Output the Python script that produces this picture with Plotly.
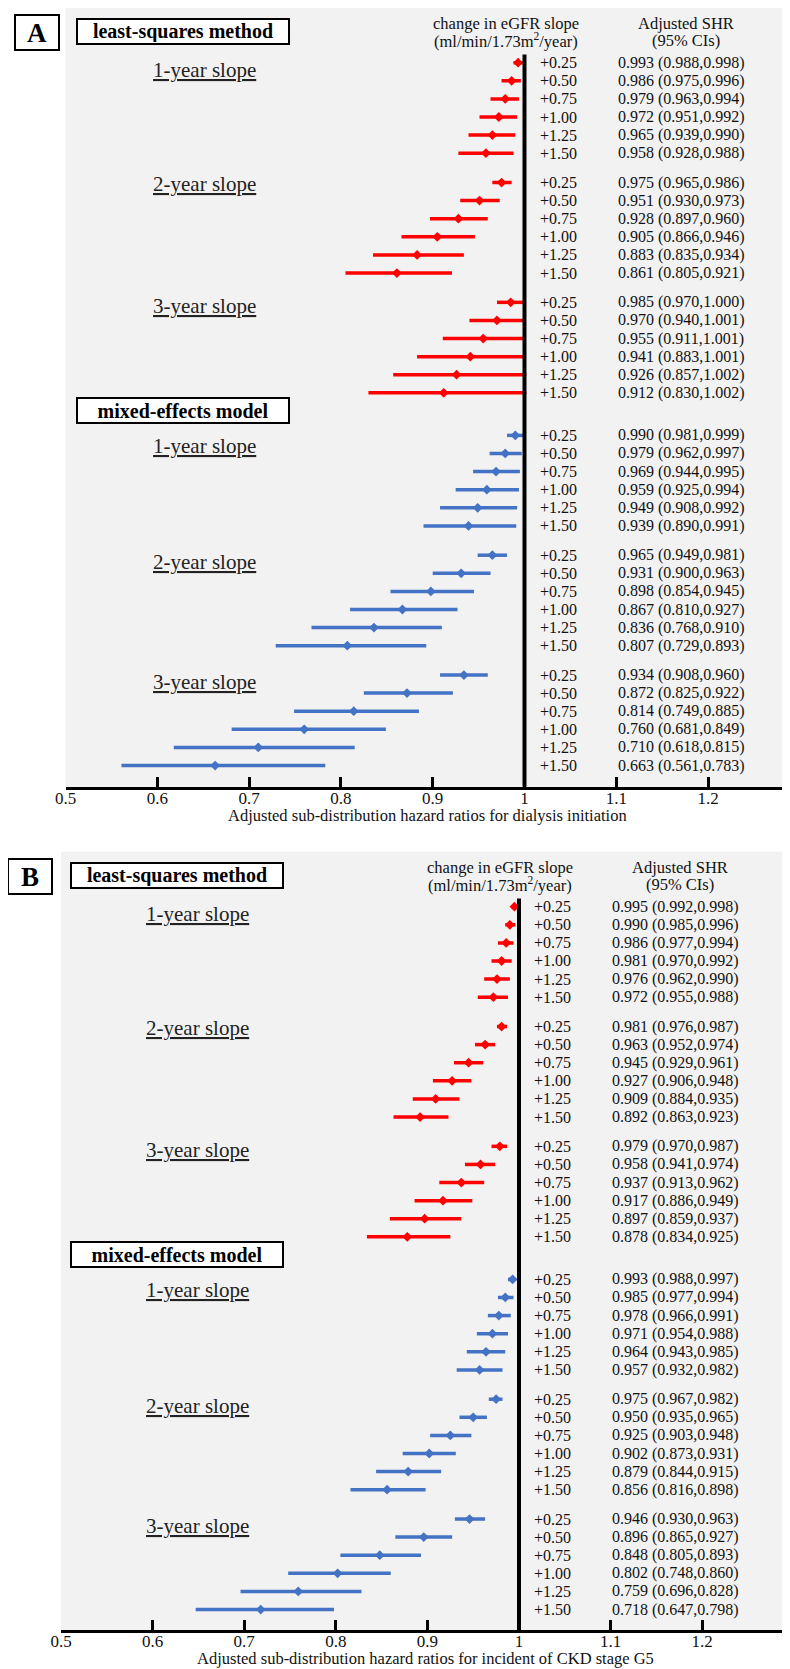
import plotly.graph_objects as go

# ---------------- data ----------------
increments = ["+0.25", "+0.50", "+0.75", "+1.00", "+1.25", "+1.50"]
slope_labels = ["1-year slope", "2-year slope", "3-year slope"]
method_labels = ["least-squares method", "mixed-effects model"]
panel_labels = ["A", "B"]
outcome_titles = ["Adjusted sub-distribution hazard ratios for dialysis initiation",
                  "Adjusted sub-distribution hazard ratios for incident of CKD stage G5"]
header_slope = ["change in eGFR slope", "(ml/min/1.73m<sup>2</sup>/year)"]
header_shr = ["Adjusted SHR", "(95% CIs)"]
tick_vals = [0.5, 0.6, 0.7, 0.8, 0.9, 1.0, 1.1, 1.2]
tick_text = ["0.5", "0.6", "0.7", "0.8", "0.9", "1", "1.1", "1.2"]

# Panel A: dialysis initiation
a_ls_est = [0.993, 0.986, 0.979, 0.972, 0.965, 0.958, 0.975, 0.951, 0.928, 0.905, 0.883, 0.861, 0.985, 0.970, 0.955, 0.941, 0.926, 0.912]
a_ls_lo = [0.988, 0.975, 0.963, 0.951, 0.939, 0.928, 0.965, 0.930, 0.897, 0.866, 0.835, 0.805, 0.970, 0.940, 0.911, 0.883, 0.857, 0.830]
a_ls_hi = [0.998, 0.996, 0.994, 0.992, 0.990, 0.988, 0.986, 0.973, 0.960, 0.946, 0.934, 0.921, 1.000, 1.001, 1.001, 1.001, 1.002, 1.002]
a_me_est = [0.990, 0.979, 0.969, 0.959, 0.949, 0.939, 0.965, 0.931, 0.898, 0.867, 0.836, 0.807, 0.934, 0.872, 0.814, 0.760, 0.710, 0.663]
a_me_lo = [0.981, 0.962, 0.944, 0.925, 0.908, 0.890, 0.949, 0.900, 0.854, 0.810, 0.768, 0.729, 0.908, 0.825, 0.749, 0.681, 0.618, 0.561]
a_me_hi = [0.999, 0.997, 0.995, 0.994, 0.992, 0.991, 0.981, 0.963, 0.945, 0.927, 0.910, 0.893, 0.960, 0.922, 0.885, 0.849, 0.815, 0.783]

# Panel B: incident CKD stage G5
b_ls_est = [0.995, 0.990, 0.986, 0.981, 0.976, 0.972, 0.981, 0.963, 0.945, 0.927, 0.909, 0.892, 0.979, 0.958, 0.937, 0.917, 0.897, 0.878]
b_ls_lo = [0.992, 0.985, 0.977, 0.970, 0.962, 0.955, 0.976, 0.952, 0.929, 0.906, 0.884, 0.863, 0.970, 0.941, 0.913, 0.886, 0.859, 0.834]
b_ls_hi = [0.998, 0.996, 0.994, 0.992, 0.990, 0.988, 0.987, 0.974, 0.961, 0.948, 0.935, 0.923, 0.987, 0.974, 0.962, 0.949, 0.937, 0.925]
b_me_est = [0.993, 0.985, 0.978, 0.971, 0.964, 0.957, 0.975, 0.950, 0.925, 0.902, 0.879, 0.856, 0.946, 0.896, 0.848, 0.802, 0.759, 0.718]
b_me_lo = [0.988, 0.977, 0.966, 0.954, 0.943, 0.932, 0.967, 0.935, 0.903, 0.873, 0.844, 0.816, 0.930, 0.865, 0.805, 0.748, 0.696, 0.647]
b_me_hi = [0.997, 0.994, 0.991, 0.988, 0.985, 0.982, 0.982, 0.965, 0.948, 0.931, 0.915, 0.898, 0.963, 0.927, 0.893, 0.860, 0.828, 0.798]

# ---------------- style / layout ----------------
PAGE_W, PAGE_H = 790, 1669
BODY = 8                      # default page margin around the plot div
FIG_W, FIG_H = PAGE_W - BODY, PAGE_H - BODY
ROW_PX = 18.1
GAP_GROUP = 1.62
GAP_METHOD = 2.35
SLOPE_LABEL_SHIFT = [0.4, 0.1, 0.18, 0.59, 0.35, 0.4]   # label offset below first row of each group
FONT = "Liberation Serif, Times New Roman, serif"
TXT = "#111111"
COLORS = ["#ff0000", "#4472c4"]
BG = "#f2f2f2"
FS = 16

panels = [
    dict(x05=65.5, x10=524.5, top=8.0, axis=786.7, row0=62.7, slope_x=204, box_x=183, letter_x=36.5,
         hdr1_x=506, hdr2_x=686),
    dict(x05=61.0, x10=519.0, top=851.7, axis=1630.0, row0=906.7, slope_x=197, box_x=176.5, letter_x=30,
         hdr1_x=500, hdr2_x=680),
]
data = [
    [(a_ls_est, a_ls_lo, a_ls_hi), (a_me_est, a_me_lo, a_me_hi)],
    [(b_ls_est, b_ls_lo, b_ls_hi), (b_me_est, b_me_lo, b_me_hi)],
]

# row positions (in row units), 6 groups of 6 rows
group_start = []
start = 0.0
for m in range(2):
    for g in range(3):
        group_start.append(start)
        start += 5 + (GAP_GROUP if g < 2 else GAP_METHOD)
row_pos = [gs + k for gs in group_start for k in range(6)]


def px_x(px):
    return min(1.0, max(0.0, (px - BODY) / FIG_W))


def px_y(px):
    return min(1.0, max(0.0, 1 - (px - BODY) / FIG_H))


fig = go.Figure()
annotations = []
shapes = []
layout_axes = {}

for p, P in enumerate(panels):
    sfx = "" if p == 0 else str(p + 1)
    xa, ya = "x" + sfx, "y" + sfx
    per_unit = (P["x10"] - P["x05"]) / 0.5
    x_max = 0.5 + (PAGE_W - P["x05"]) / per_unit
    y_bottom = (P["axis"] - P["row0"]) / ROW_PX
    y_top = -(P["row0"] - P["top"]) / ROW_PX

    def ry(rows, P=P):
        return px_y(P["row0"] + rows * ROW_PX)

    for m in range(2):
        est, lo, hi = data[p][m]
        ys = row_pos[m * 18:(m + 1) * 18]
        fig.add_trace(go.Scatter(
            x=est, y=ys, xaxis=xa, yaxis=ya, mode="markers",
            marker=dict(symbol="diamond", size=7.5, color=COLORS[m], line=dict(width=0)),
            error_x=dict(type="data", symmetric=False,
                         array=[h - e for h, e in zip(hi, est)],
                         arrayminus=[e - l for e, l in zip(est, lo)],
                         color=COLORS[m], thickness=3.5, width=0),
            showlegend=False, hoverinfo="skip"))
        # row labels and values
        for i in range(18):
            y = ys[i]
            annotations.append(dict(
                x=px_x(P["x10"] + 13), xref="paper", y=y, yref=ya, xanchor="left", yanchor="middle",
                text=increments[i % 6], showarrow=False, font=dict(family=FONT, size=FS, color=TXT)))
            annotations.append(dict(
                x=px_x(P["x10"] + 91), xref="paper", y=y, yref=ya, xanchor="left", yanchor="middle",
                text=f"{est[i]:.3f} ({lo[i]:.3f},{hi[i]:.3f})", showarrow=False,
                font=dict(family=FONT, size=FS, color=TXT)))
        # slope labels
        for g in range(3):
            gi = m * 3 + g
            annotations.append(dict(
                x=px_x(P["slope_x"]), xref="paper", y=group_start[gi] + SLOPE_LABEL_SHIFT[gi], yref=ya,
                xanchor="center", yanchor="middle", text="<u>" + slope_labels[g] + "</u>",
                showarrow=False, font=dict(family=FONT, size=21, color="#222222")))
        # method boxes
        box_row = -1.73 if m == 0 else row_pos[17] + 1.0
        annotations.append(dict(
            x=px_x(P["box_x"]), xref="paper", y=ry(box_row), yref="paper",
            xanchor="center", yanchor="middle", text="<b>" + method_labels[m] + "</b>",
            showarrow=False, font=dict(family=FONT, size=20, color="#000000"),
            bgcolor="#ffffff", bordercolor="#000000", borderwidth=2, borderpad=1,
            width=208, height=21))

    # panel letter
    annotations.append(dict(
        x=px_x(P["letter_x"]), xref="paper", y=ry(-1.68), yref="paper",
        xanchor="center", yanchor="middle", text="<b>" + panel_labels[p] + "</b>",
        showarrow=False, font=dict(family=FONT, size=27, color="#000000"),
        bgcolor="#ffffff", bordercolor="#000000", borderwidth=2, borderpad=1,
        width=40, height=31))
    # headers
    for hx, lines in [(P["hdr1_x"], header_slope), (P["hdr2_x"], header_shr)]:
        for k, line in enumerate(lines):
            annotations.append(dict(
                x=px_x(hx), xref="paper", y=ry(-2.19 + 0.94 * k), yref="paper",
                xanchor="center", yanchor="middle", text=line, showarrow=False,
                font=dict(family=FONT, size=FS + 0.5, color=TXT)))
    # x-axis title
    annotations.append(dict(
        x=px_x((P["x05"] + PAGE_W) / 2), xref="paper", y=px_y(P["axis"] + 28.5), yref="paper",
        xanchor="center", yanchor="middle", text=outcome_titles[p], showarrow=False,
        font=dict(family=FONT, size=16.5, color=TXT)))
    # reference line at HR = 1
    shapes.append(dict(type="line", xref=xa, yref=ya, x0=1.0, x1=1.0, y0=-0.45, y1=y_bottom,
                       line=dict(color="#000000", width=4), layer="above"))

    layout_axes["xaxis" + sfx] = dict(
        domain=[px_x(P["x05"]), 1.0], range=[0.5, x_max], anchor=ya,
        tickvals=tick_vals, ticktext=tick_text, ticks="inside", ticklen=10, tickwidth=3,
        tickcolor="#000000", showline=True, linewidth=3, linecolor="#000000",
        showgrid=False, zeroline=False, tickfont=dict(family=FONT, size=17, color=TXT),
        ticklabelstandoff=-6, automargin=False, fixedrange=True)
    layout_axes["yaxis" + sfx] = dict(
        domain=[px_y(P["axis"]), px_y(P["top"])], range=[y_bottom, y_top], anchor=xa,
        showticklabels=False, showgrid=False, zeroline=False, showline=False, ticks="",
        automargin=False, fixedrange=True)

fig.update_layout(
    width=FIG_W, height=FIG_H, margin=dict(l=0, r=0, t=0, b=0),
    paper_bgcolor="#ffffff", plot_bgcolor=BG, showlegend=False,
    annotations=annotations, shapes=shapes, font=dict(family=FONT, color=TXT),
    **layout_axes)

fig.write_html("out.html")
